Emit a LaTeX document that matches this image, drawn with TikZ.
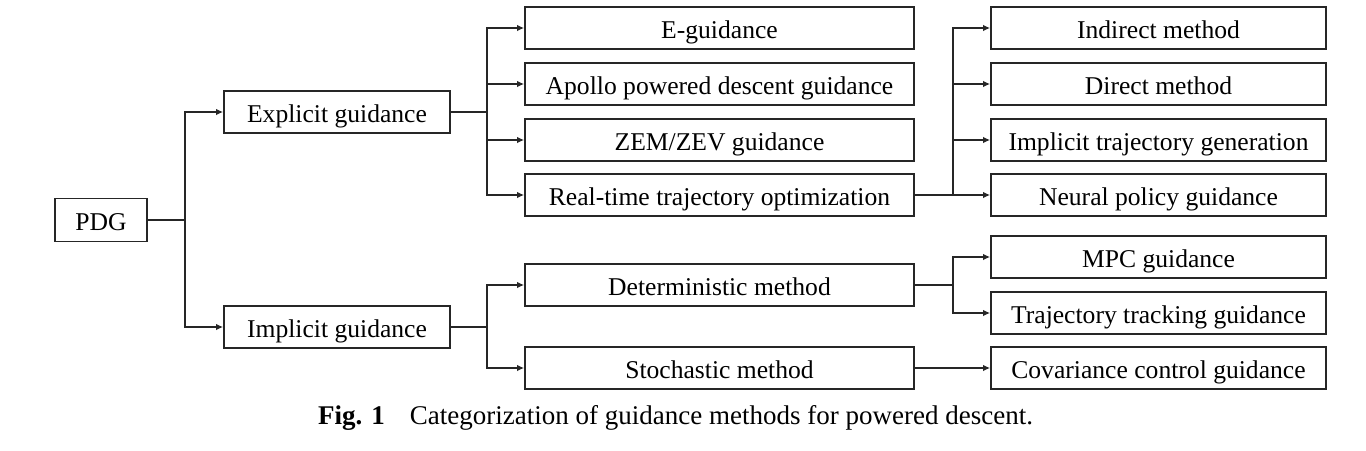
\documentclass[tikz,border=0pt]{standalone}
\usepackage{fontspec}
\setmainfont{Liberation Serif}
\usetikzlibrary{arrows.meta}
\begin{document}
\begin{tikzpicture}[x=1pt,y=-1pt,
  box/.style={draw=black!85,line width=1.7pt,inner sep=0pt,minimum height=42pt,text height=20pt,text depth=0pt,font=\fontsize{25.6}{30}\selectfont},
  colA/.style={box,minimum width=226pt},
  colB/.style={box,minimum width=389pt},
  colC/.style={box,minimum width=335pt},
  link/.style={draw=black!85,line width=1.4pt},
  arr/.style={link,-{Latex[length=7pt,width=6.5pt]}}]
\useasboundingbox (0,0) rectangle (1366,450);
\node[box,minimum width=92pt,minimum height=43pt] (pdg) at (101,220) {PDG};
\node[colA] (exp) at (337,112) {Explicit guidance};
\node[colA] (imp) at (337,327) {Implicit guidance};
\node[colB] (eg) at (719.5,28) {E-guidance};
\node[colB] (apo) at (719.5,84) {Apollo powered descent guidance};
\node[colB] (zem) at (719.5,140) {ZEM/ZEV guidance};
\node[colB] (rto) at (719.5,195) {Real-time trajectory optimization};
\node[colB] (det) at (719.5,285) {Deterministic method};
\node[colB] (sto) at (719.5,368) {Stochastic method};
\node[colC] (ind) at (1158.5,28) {Indirect method};
\node[colC] (dir) at (1158.5,84) {Direct method};
\node[colC] (itg) at (1158.5,140) {Implicit trajectory generation};
\node[colC] (npg) at (1158.5,195) {Neural policy guidance};
\node[colC] (mpc) at (1158.5,257) {MPC guidance};
\node[colC] (ttg) at (1158.5,313) {Trajectory tracking guidance};
\node[colC] (ccg) at (1158.5,368) {Covariance control guidance};
% branch coordinates
\coordinate (b0) at (185,220);
\coordinate (b1) at (487,112);
\coordinate (b2) at (487,327);
\coordinate (b3) at (953,195);
\coordinate (b4) at (953,285);
\draw[link] (pdg.east) -- (b0);
\draw[arr] (b0) |- (exp.west);
\draw[arr] (b0) |- (imp.west);
\draw[link] (exp.east) -- (b1);
\draw[arr] (b1) |- (eg.west);
\draw[arr] (b1) |- (apo.west);
\draw[arr] (b1) |- (zem.west);
\draw[arr] (b1) |- (rto.west);
\draw[link] (imp.east) -- (b2);
\draw[arr] (b2) |- (det.west);
\draw[arr] (b2) |- (sto.west);
\draw[link] (rto.east) -- (b3);
\draw[arr] (b3) |- (ind.west);
\draw[arr] (b3) |- (dir.west);
\draw[arr] (b3) |- (itg.west);
\draw[arr] (b3) -- (npg.west);
\draw[link] (det.east) -- (b4);
\draw[arr] (b4) |- (mpc.west);
\draw[arr] (b4) |- (ttg.west);
\draw[arr] (sto.east) -- (ccg.west);
\node[anchor=base west,inner sep=0pt,font=\fontsize{27}{32}\selectfont] (cap) at (318,424) {\textbf{Fig. 1}\hspace{25pt}Categorization of guidance methods for powered descent.};
\end{tikzpicture}
\end{document}
